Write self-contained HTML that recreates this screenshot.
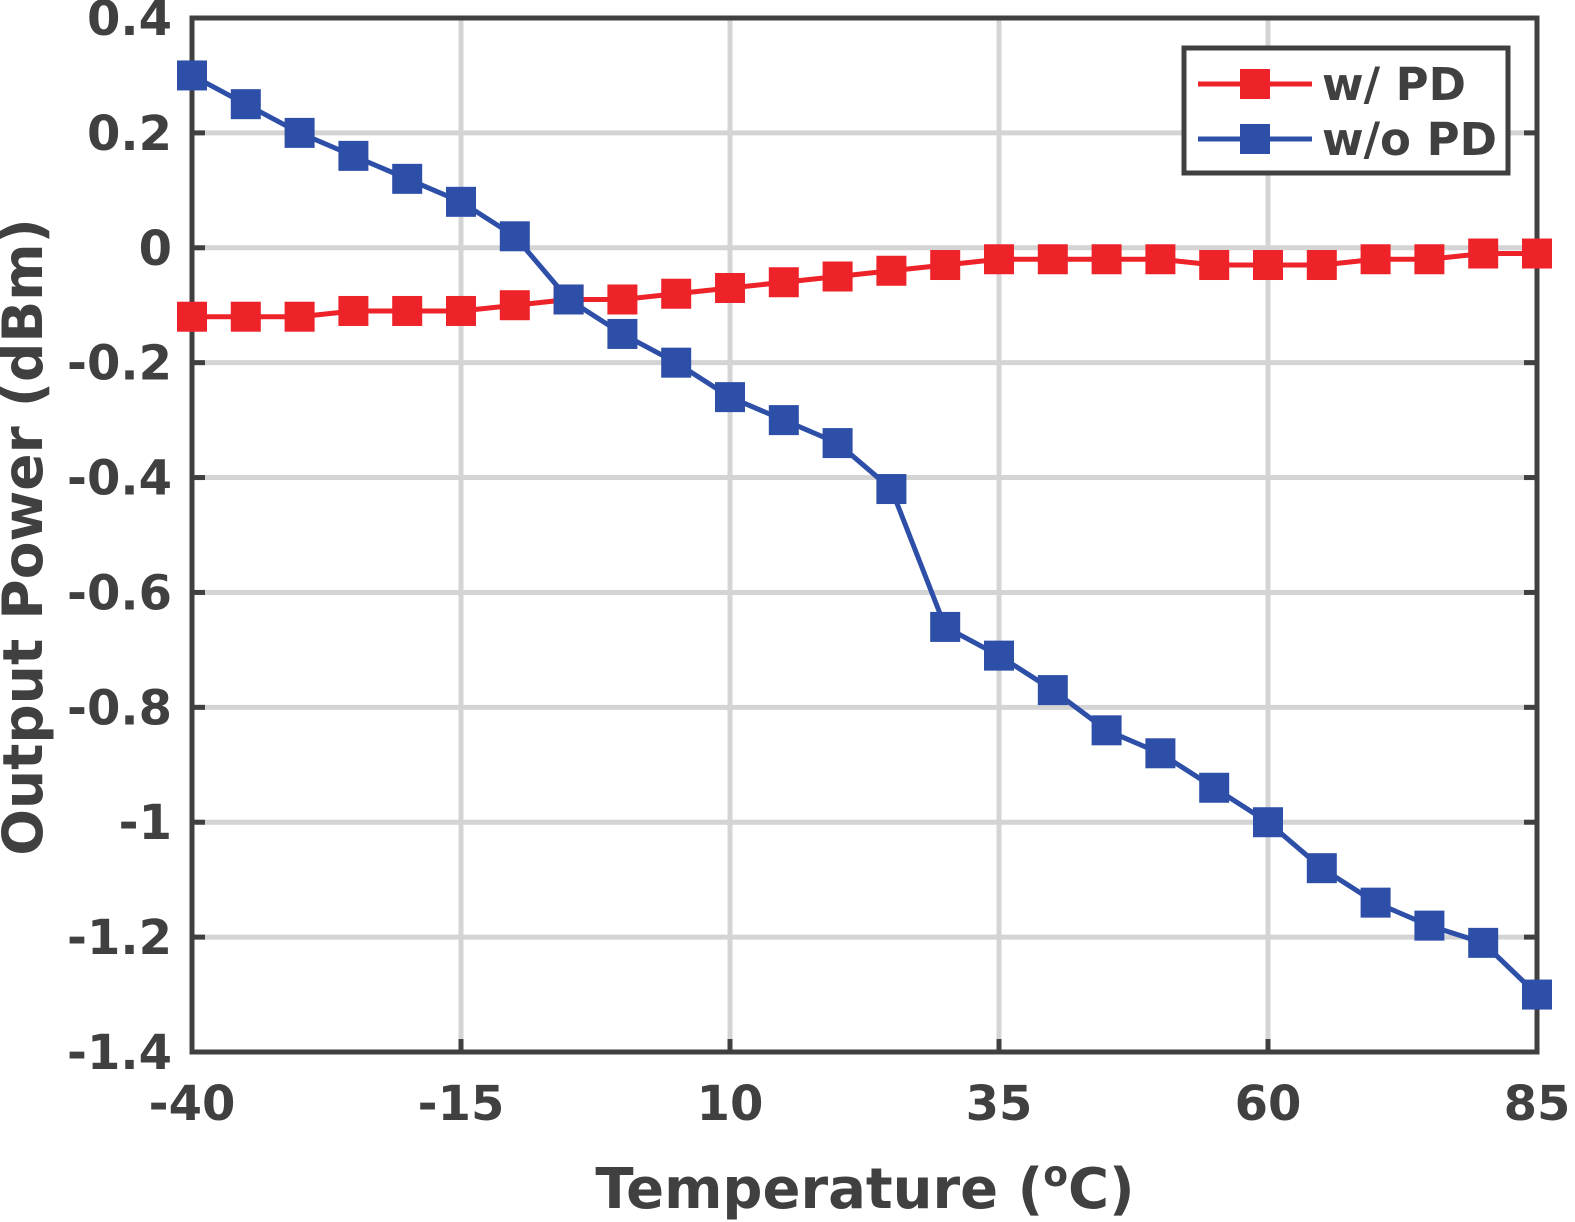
<!DOCTYPE html>
<html><head><meta charset="utf-8"><style>
html,body{margin:0;padding:0;background:#fff;}
svg{display:block;}
text{font-family:"DejaVu Sans","Liberation Sans",sans-serif;font-weight:bold;fill:#404040;}
</style></head><body>
<svg id="chart" width="1575" height="1222" viewBox="0 0 1575 1222"></svg>
<script>
const temps=[-40,-35,-30,-25,-20,-15,-10,-5,0,5,10,15,20,25,30,35,40,45,50,55,60,65,70,75,80,85];
const withPD=[-0.12,-0.12,-0.12,-0.11,-0.11,-0.11,-0.10,-0.09,-0.09,-0.08,-0.07,-0.06,-0.05,-0.04,-0.03,-0.02,-0.02,-0.02,-0.02,-0.03,-0.03,-0.03,-0.02,-0.02,-0.01,-0.01];
const withoutPD=[0.30,0.25,0.20,0.16,0.12,0.08,0.02,-0.09,-0.15,-0.20,-0.26,-0.30,-0.34,-0.42,-0.66,-0.71,-0.77,-0.84,-0.88,-0.94,-1.00,-1.08,-1.14,-1.18,-1.21,-1.30];
const xTicks=[-40,-15,10,35,60,85];
const yTicks=[0.4,0.2,0,-0.2,-0.4,-0.6,-0.8,-1,-1.2,-1.4];
const yTickLabels=["0.4","0.2","0","-0.2","-0.4","-0.6","-0.8","-1","-1.2","-1.4"];

const L=192,R=1537,T=18,B=1052;
const X=v=>L+(v+40)/125*(R-L);
const Y=v=>T+(0.4-v)/1.8*(B-T);
const svg=document.getElementById('chart');
const NS='http://www.w3.org/2000/svg';
function mk(tag,attrs,parent){const e=document.createElementNS(NS,tag);for(const k in attrs)e.setAttribute(k,attrs[k]);(parent||svg).appendChild(e);return e;}

const grid=mk('g',{});


xTicks.forEach(t=>{
  const l=mk('line',{x1:X(t),x2:X(t),y1:T,y2:B,stroke:'#d4d4d4','stroke-width':5},grid);
  
  
  const tk=mk('line',{x1:X(t),x2:X(t),y1:B,y2:B-13,stroke:'#404040','stroke-width':5},grid);
  
  
  const tx=mk('text',{x:X(t),y:1120,'font-size':48,'text-anchor':'middle'});
  tx.textContent=t;
  
  
});
yTicks.forEach((t,i)=>{
  const l=mk('line',{x1:L,x2:R,y1:Y(t),y2:Y(t),stroke:'#d4d4d4','stroke-width':5},grid);
  
  
  const tk=mk('line',{x1:L,x2:L+13,y1:Y(t),y2:Y(t),stroke:'#404040','stroke-width':5},grid);
  
  
  const tk2=mk('line',{x1:R,x2:R-13,y1:Y(t),y2:Y(t),stroke:'#404040','stroke-width':5},grid);
  
  
  const tx=mk('text',{x:172,y:Y(t)+17,'font-size':48,'text-anchor':'end'});
  tx.textContent=yTickLabels[i];
  
  
});
const frame=mk('rect',{x:L,y:T,width:R-L,height:B-T,fill:'none',stroke:'#404040','stroke-width':5});



function series(vals,color,name){
  const g=mk('g',{});
  
  
  const pts=vals.map((v,i)=>X(temps[i])+','+Y(v)).join(' ');
  const pl=mk('polyline',{points:pts,fill:'none',stroke:color,'stroke-width':5},g);
  
  
  vals.forEach((v,i)=>{
    const r=mk('rect',{x:X(temps[i])-15,y:Y(v)-15,width:30,height:30,fill:color},g);
    
    
  });
}
series(withPD,'#ee2229','series-with-pd');
series(withoutPD,'#2e4fa8','series-without-pd');

const lg=mk('g',{});


mk('rect',{x:1184,y:48,width:324,height:125,fill:'#fff',stroke:'#404040','stroke-width':5},lg);
[['w/ PD','#ee2229',84],['w/o PD','#2e4fa8',139]].forEach(([lab,c,y])=>{
  const e=mk('g',{},lg);
  
  
  mk('line',{x1:1198,x2:1312,y1:y,y2:y,stroke:c,'stroke-width':5},e);
  mk('rect',{x:1240,y:y-15,width:30,height:30,fill:c},e);
  const t=mk('text',{x:1322,y:y+16,'font-size':45},e);
  t.textContent=lab;
});

const xt=mk('text',{x:865,y:1208,'font-size':56,'text-anchor':'middle'});
xt.innerHTML='Temperature (<tspan dy="-22" font-size="36">o</tspan><tspan dy="22">C)</tspan>';


const yt=mk('text',{x:0,y:0,'font-size':55,'text-anchor':'middle',transform:'translate(42,537) rotate(-90)'});
yt.textContent='Output Power (dBm)';


</script>
</body></html>
